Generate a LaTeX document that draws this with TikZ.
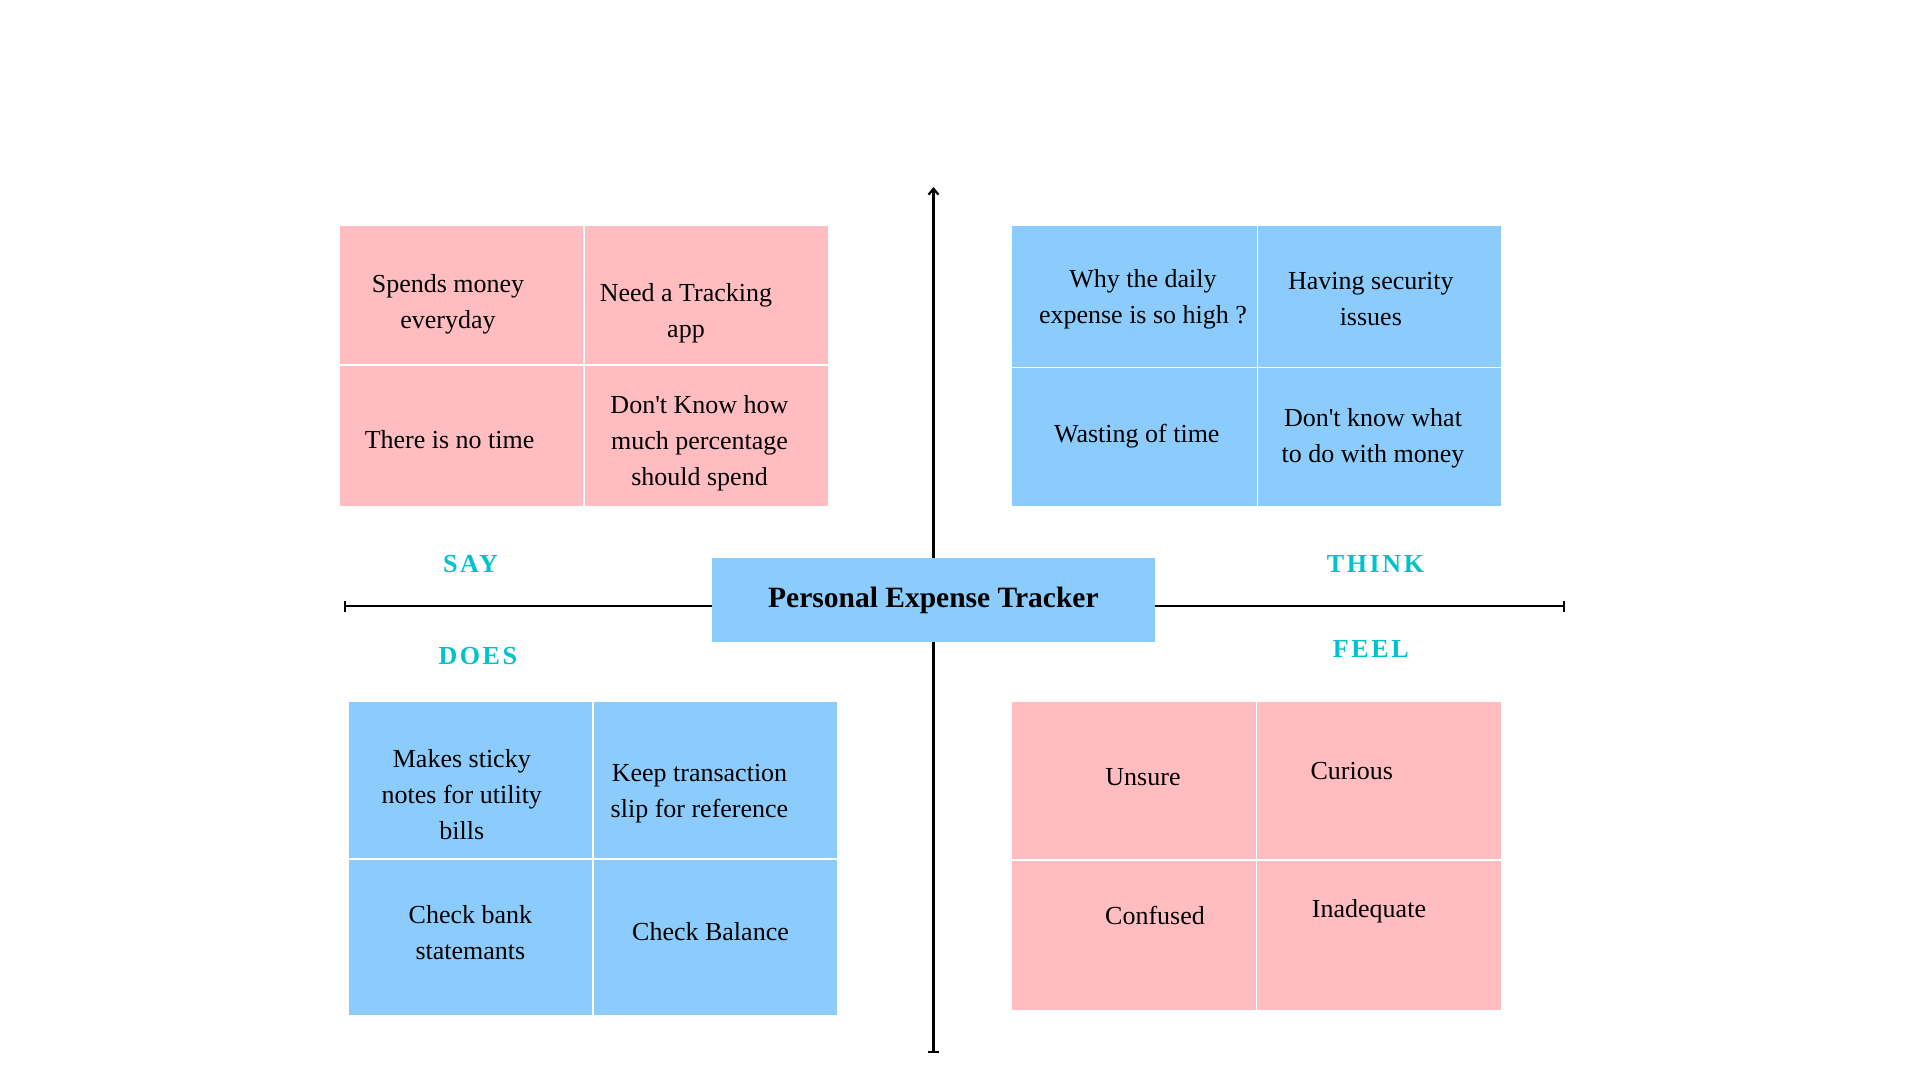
\documentclass[tikz,border=0pt]{standalone}
\usepackage{fontspec}
\setmainfont{Liberation Serif}[Ligatures=TeXOff]
\newfontfamily\spacedfont{Liberation Serif}[LetterSpace=10,Ligatures=TeXOff]
\usetikzlibrary{arrows.meta}
\definecolor{mappink}{RGB}{255,189,193}
\definecolor{mapblue}{RGB}{139,204,253}
\definecolor{mapteal}{RGB}{0,194,203}

\begin{document}
\begin{tikzpicture}[x=1pt,y=-1pt,
  cell/.style={draw=white,line width=1.7pt,inner sep=0pt,anchor=north west},
  pinkcell/.style={cell,fill=mappink},
  bluecell/.style={cell,fill=mapblue},
  note/.style={align=center,inner sep=0pt,font=\fontsize{26}{36}\selectfont},
  zone/.style={inner sep=0pt,text=mapteal,font=\fontsize{26}{30}\spacedfont\bfseries},
  axis/.style={line width=2.2pt,black}]
\useasboundingbox (0,0) rectangle (1920,1080);

% axes
\coordinate (axtop) at (933.5,187);
\coordinate (axbottom) at (933.5,1053);
\coordinate (axleft) at (344,606);
\coordinate (axright) at (1565,606);
\draw[axis,{Bar[width=11pt]}-{Straight Barb[length=6pt,width=10pt]}] (axbottom) -- (axtop);
\draw[axis,{Bar[width=11pt]}-{Bar[width=11pt]}] (axleft) -- (axright);

% say
\node[pinkcell,minimum width=245pt,minimum height=140pt] (say1) at (338,224) {};
\node[pinkcell,minimum width=245pt,minimum height=142pt] (say2) at (583,224) {};
\node[pinkcell,minimum width=245pt,minimum height=142pt] (say3) at (338,364) {};
\node[pinkcell,minimum width=245pt,minimum height=142pt] (say4) at (583,364) {};
\node[note] (say1t) at (448,304.6) {Spends money\\everyday};
\node[note] (say2t) at (686,313) {Need a Tracking\\app};
\node[note] (say3t) at (449.6,440) {There is no time};
\node[note] (say4t) at (699.5,443) {Don't Know how\\much percentage\\should spend};

% think
\node[bluecell,minimum width=246pt,minimum height=142.5pt] (think1) at (1010.5,224) {};
\node[bluecell,minimum width=244pt,minimum height=142.5pt] (think2) at (1256.5,224) {};
\node[bluecell,minimum width=246pt,minimum height=139.5pt] (think3) at (1010.5,366.5) {};
\node[bluecell,minimum width=244pt,minimum height=139.5pt] (think4) at (1256.5,366.5) {};
\node[note] (think1t) at (1143,299.7) {Why the daily\\expense is so high ?};
\node[note] (think2t) at (1370.8,298.7) {Having security\\issues};
\node[note] (think3t) at (1136.8,435.7) {Wasting of time};
\node[note] (think4t) at (1373,438) {Don't know what\\to do with money};

% does
\node[bluecell,minimum width=245pt,minimum height=158pt] (does1) at (347,700) {};
\node[bluecell,minimum width=245pt,minimum height=158pt] (does2) at (592,700) {};
\node[bluecell,minimum width=245pt,minimum height=157pt] (does3) at (347,858) {};
\node[bluecell,minimum width=245pt,minimum height=157pt] (does4) at (592,858) {};
\node[note] (does1t) at (461.8,794.3) {Makes sticky\\notes for utility\\bills};
\node[note] (does2t) at (699.5,793.4) {Keep transaction\\slip for reference};
\node[note] (does3t) at (470.4,933) {Check bank\\statemants};
\node[note] (does4t) at (710.5,932) {Check Balance};

% feel
\node[pinkcell,minimum width=245pt,minimum height=159.3pt] (feel1) at (1010.5,700) {};
\node[pinkcell,minimum width=245pt,minimum height=159.3pt] (feel2) at (1255.5,700) {};
\node[pinkcell,minimum width=245pt,minimum height=150.7pt] (feel3) at (1010.5,859.3) {};
\node[pinkcell,minimum width=245pt,minimum height=150.7pt] (feel4) at (1255.5,859.3) {};
\node[note] (feel1t) at (1143,776.7) {Unsure};
\node[note] (feel2t) at (1351.7,771) {Curious};
\node[note] (feel3t) at (1155,915) {Confused};
\node[note] (feel4t) at (1369,911) {Inadequate};

% quadrant labels
\node[zone] (say) at (470.5,564) {SAY};
\node[zone] (think) at (1375.5,563.5) {THINK};
\node[zone] (does) at (477.8,656) {DOES};
\node[zone] (feel) at (1370.8,648.5) {FEEL};

% centre
\node[fill=mapblue,minimum width=443pt,minimum height=83.4pt,inner sep=0pt,
  font=\fontsize{29.5}{34}\selectfont\bfseries] (tracker) at (933.4,600) {Personal Expense Tracker};
\end{tikzpicture}
\end{document}
